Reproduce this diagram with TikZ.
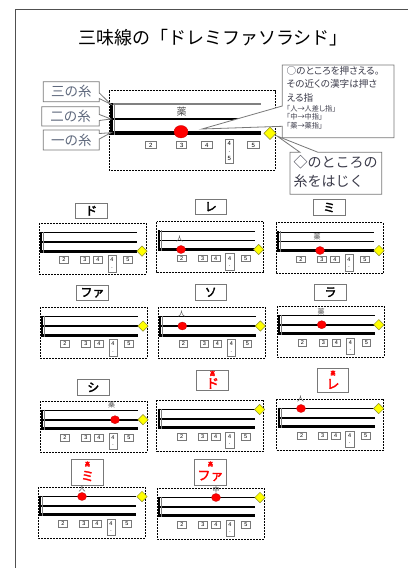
\documentclass[tikz,border=0pt]{standalone}
\usepackage{fontspec}
\setmainfont{Liberation Sans}
\newfontfamily\jp{Noto Sans CJK JP}
\newfontfamily\jpp[RawFeature=+palt]{Noto Sans CJK JP}
\newfontfamily\jpbold[FakeBold=2.5]{Noto Sans CJK JP}
\usetikzlibrary{shapes.geometric}
\definecolor{framegray}{RGB}{80,80,80}
\definecolor{boxgray}{RGB}{120,120,120}
\definecolor{labeltext}{RGB}{95,105,125}
\definecolor{calltext}{RGB}{60,60,75}
\definecolor{notered}{RGB}{255,0,0}
\definecolor{pluckfill}{RGB}{255,255,0}
\definecolor{pluckedge}{RGB}{140,140,40}
\tikzset{
  dashbox/.style={draw=black, line width=0.6pt, dash pattern=on 2pt off 1pt},
  strthree/.style={line width=1.3pt},
  strtwo/.style={line width=1.7pt},
  strone/.style={line width=3pt},
  numbox/.style={draw=boxgray, fill=white, line width=0.6pt, inner sep=0pt,
    minimum width=8.5pt, minimum height=6.5pt, font=\fontsize{5.5}{5.5}\selectfont},
  tallbox/.style={draw=boxgray, fill=white, line width=0.6pt, inner sep=0pt, align=center,
    minimum width=8.3pt, minimum height=16.7pt, font=\fontsize{5.5}{7.5}\selectfont},
  namebox/.style={draw=boxgray, fill=white, line width=0.8pt, inner sep=0pt,
    minimum width=31.5pt, minimum height=15.5pt, font=\jpbold\fontsize{12}{12}\selectfont},
  hightag/.style={inner sep=0pt, text=notered, font=\jpbold\fontsize{5.5}{5.5}\selectfont},
  redname/.style={inner sep=0pt, text=notered, font=\jpbold\fontsize{13}{13}\selectfont},
  stopmark/.style={ellipse, fill=notered, draw=red!75!black, line width=0.3pt,
    minimum width=9pt, minimum height=8pt, inner sep=0pt},
  pluckmark/.style={diamond, fill=pluckfill, draw=pluckedge, line width=0.5pt,
    minimum width=10.5pt, minimum height=10.5pt, inner sep=0pt},
  finger/.style={inner sep=0pt, text=black!70, font=\jp\fontsize{7}{7}\selectfont},
  callout/.style={draw=boxgray, fill=white, line width=0.8pt, line join=miter},
  labeltxt/.style={inner sep=0pt, text=labeltext, font=\jp\fontsize{13.5}{13.5}\selectfont},
  calltxt/.style={inner sep=0pt, anchor=west, text=calltext, font=\jpp\fontsize{9.6}{9.6}\selectfont},
  calltxtsmall/.style={inner sep=0pt, anchor=west, text=calltext, font=\jpp\fontsize{7.2}{7.2}\selectfont},
  bigtxt/.style={inner sep=0pt, anchor=west, text=calltext, font=\jp\fontsize{14}{14}\selectfont},
}
% small shamisen diagram, local coordinates, #1 = name prefix
\newcommand\shbox[1]{%
  \draw[dashbox] (0,0) rectangle (107,51);
  \draw[strthree] (1,9.5) -- (98,9.5);
  \draw[strtwo] (1,18.7) -- (98,18.7);
  \draw[strone] (1,27.8) -- (98,27.8);
  \draw[line width=2.2pt] (2,8.6) -- (2,29.3);
  \draw[line width=1.1pt, gray] (4.4,8.6) -- (4.4,29.3);
  \node[numbox] (#1n2) at (25,36.7) {2};
  \node[numbox] (#1n3) at (46,36.7) {3};
  \node[numbox] (#1n4) at (59,36.7) {4};
  \node[tallbox] (#1n45) at (73,40.3) {4\\·};
  \node[numbox] (#1n5) at (89,36.7) {5};
}
\begin{document}
\begin{tikzpicture}[x=1pt,y=-1pt]
\useasboundingbox (0,0) rectangle (408,568);
\fill[white] (0,0) rectangle (408,568);
\draw[framegray, line width=0.8pt] (15.5,568) -- (15.5,9.5) -- (408,9.5);
\node[inner sep=0pt, font=\jp\fontsize{18}{18}\selectfont] (title) at (213,38) {三味線の「ドレミファソラシド」};

% ---------- main diagram ----------
\draw[dashbox] (109.3,90.7) rectangle (275,170);
\draw[line width=1.8pt, gray] (111.5,104.3) -- (261,104.3);
\draw[line width=2.2pt] (111.5,119) -- (261,119);
\draw[line width=3.8pt] (111.5,132.7) -- (261,132.7);
\draw[line width=3pt] (111.3,103) -- (111.3,134.6);
\draw[line width=1pt, gray] (114,103.5) -- (114,134.6);
\node[finger, font=\jp\fontsize{10}{10}\selectfont] (mainf) at (181.7,111.7) {薬};
\node[numbox, minimum width=11pt, minimum height=7pt, font=\fontsize{6}{6}\selectfont] (m2) at (150.7,145) {2};
\node[numbox, minimum width=10pt, minimum height=7pt, font=\fontsize{6}{6}\selectfont] (m3) at (181.7,145) {3};
\node[numbox, minimum width=11.5pt, minimum height=7pt, font=\fontsize{6}{6}\selectfont] (m4) at (206.7,145) {4};
\node[tallbox, minimum width=8.5pt, minimum height=24pt, font=\fontsize{6}{7.6}\selectfont] (m45) at (229.3,151) {4\\·\\5};
\node[numbox, minimum width=11.5pt, minimum height=7pt, font=\fontsize{6}{6}\selectfont] (m5) at (253.3,145) {5};
\node[stopmark, minimum width=14pt, minimum height=12.5pt] (mainstop) at (181,131.7) {};
\node[pluckmark, minimum width=12.5pt, minimum height=12.5pt] (mainpluck) at (270,133.3) {};

% callouts for strings
\draw[callout] (43.3,81.7) -- (99.3,81.7) -- (99.3,93) -- (111,104.3) -- (99.3,98.5) -- (99.3,101.7) -- (43.3,101.7) -- cycle;
\node[labeltxt] (l3) at (71.3,91.7) {三の糸};
\draw[callout] (41.7,106.7) -- (99.3,106.7) -- (99.3,114.5) -- (111,119) -- (99.3,120.5) -- (99.3,126) -- (41.7,126) -- cycle;
\node[labeltxt] (l2) at (70.5,116.3) {二の糸};
\draw[callout] (43.3,130) -- (99.3,130) -- (99.3,133.5) -- (111,132.7) -- (99.3,139) -- (99.3,150) -- (43.3,150) -- cycle;
\node[labeltxt] (l1) at (71.3,140) {一の糸};

% callout: press
\draw[callout] (282.3,65) -- (394,65) -- (394,137.7) -- (282.3,137.7) -- (282.3,126.3) -- (202,129) -- (282.3,106) -- cycle;
\node[calltxt] (c1) at (286.5,71) {○のところを押さえる。};
\node[calltxt] (c2) at (286.5,84.3) {その近くの漢字は押さ};
\node[calltxt] (c3) at (286.5,97.5) {える指};
\node[calltxtsmall] (c4) at (286.5,108.5) {「人→人差し指」};
\node[calltxtsmall] (c5) at (286.5,117) {「中→中指」};
\node[calltxtsmall] (c6) at (286.5,125.5) {「薬→薬指」};

% callout: pluck
\draw[callout] (290,152.3) -- (300,152.3) -- (277,136) -- (318,152.3) -- (381.7,152.3) -- (381.7,194.3) -- (290,194.3) -- cycle;
\node[bigtxt] (c7) at (293.5,162) {◇のところの};
\node[bigtxt] (c8) at (293.5,181) {糸をはじく};

% ---------- row 1 ----------
\node[namebox] (ndo) at (91.2,210.8) {ド};
\begin{scope}[shift={(39,223.3)}]
  \shbox{do}
  \node[pluckmark] (dop) at (103,27.8) {};
\end{scope}
\node[namebox] (nre) at (210.8,206.7) {レ};
\begin{scope}[shift={(156.7,221.7)}]
  \shbox{re}
  \node[finger] (ref) at (23,17) {人};
  \node[stopmark] (res) at (24.3,27.8) {};
  \node[pluckmark] (rep) at (102,27.8) {};
\end{scope}
\node[namebox] (nmi) at (329.2,207.5) {ミ};
\begin{scope}[shift={(276,222.7)}]
  \shbox{mi}
  \node[finger] (mif) at (41,14) {薬};
  \node[stopmark] (mis) at (44,27.8) {};
  \node[pluckmark] (mip) at (103,27.8) {};
\end{scope}

% ---------- row 2 ----------
\node[namebox] (nfa) at (92.5,292.8) {ファ};
\begin{scope}[shift={(40,307.3)}]
  \shbox{fa}
  \node[pluckmark] (fap) at (103,18.7) {};
\end{scope}
\node[namebox] (nso) at (210.8,292.3) {ソ};
\begin{scope}[shift={(158.3,307.3)}]
  \shbox{so}
  \node[finger] (sof) at (23.4,6.5) {人};
  \node[stopmark] (sos) at (24,18.7) {};
  \node[pluckmark] (sop) at (102,18.7) {};
\end{scope}
\node[namebox] (nla) at (330.5,292.3) {ラ};
\begin{scope}[shift={(277.3,306)}]
  \shbox{la}
  \node[finger] (laf) at (43.7,5.5) {薬};
  \node[stopmark] (las) at (44.4,18.7) {};
  \node[pluckmark] (lap) at (101.5,18.7) {};
\end{scope}

% ---------- row 3 ----------
\node[namebox] (nsi) at (93.3,387.3) {シ};
\begin{scope}[shift={(40,401)}]
  \shbox{si}
  \node[finger] (sif) at (71.7,3.5) {薬};
  \node[stopmark] (sis) at (75,18.7) {};
  \node[pluckmark] (sip) at (103,18.7) {};
\end{scope}
\node[namebox, minimum height=20pt] (nhdo) at (212.5,380) {};
\node[hightag] (nhdoh) at (212.5,373.5) {高};
\node[redname] (nhdot) at (212.5,383.5) {ド};
\begin{scope}[shift={(156.7,400)}]
  \shbox{hdo}
  \node[pluckmark] (hdop) at (103,9.5) {};
\end{scope}
\node[namebox, minimum height=24pt] (nhre) at (333,380.3) {};
\node[hightag] (nhreh) at (333,373) {高};
\node[redname] (nhret) at (333,384) {レ};
\begin{scope}[shift={(276.7,399)}]
  \shbox{hre}
  \node[finger] (href) at (24,-0.5) {人};
  \node[stopmark] (hres) at (24.3,9.5) {};
  \node[pluckmark] (hrep) at (102,9.5) {};
\end{scope}

% ---------- row 4 ----------
\node[namebox, minimum height=26pt] (nhmi) at (87.5,472) {};
\node[hightag] (nhmih) at (87.5,464) {高};
\node[redname] (nhmit) at (87.5,476) {ミ};
\begin{scope}[shift={(38,487)}]
  \shbox{hmi}
  \node[finger] (hmif) at (44,1.5) {人};
  \node[stopmark] (hmis) at (44,9.5) {};
  \node[pluckmark] (hmip) at (104,9.5) {};
\end{scope}
\node[namebox, minimum height=26pt] (nhfa) at (210.5,472) {};
\node[hightag] (nhfah) at (210.5,464) {高};
\node[redname] (nhfat) at (210.5,476) {ファ};
\begin{scope}[shift={(157,488)}]
  \shbox{hfa}
  \node[finger] (hfaf) at (59,1.5) {中};
  \node[stopmark] (hfas) at (59,9.5) {};
  \node[pluckmark] (hfap) at (103,9.5) {};
\end{scope}
\end{tikzpicture}
\end{document}
